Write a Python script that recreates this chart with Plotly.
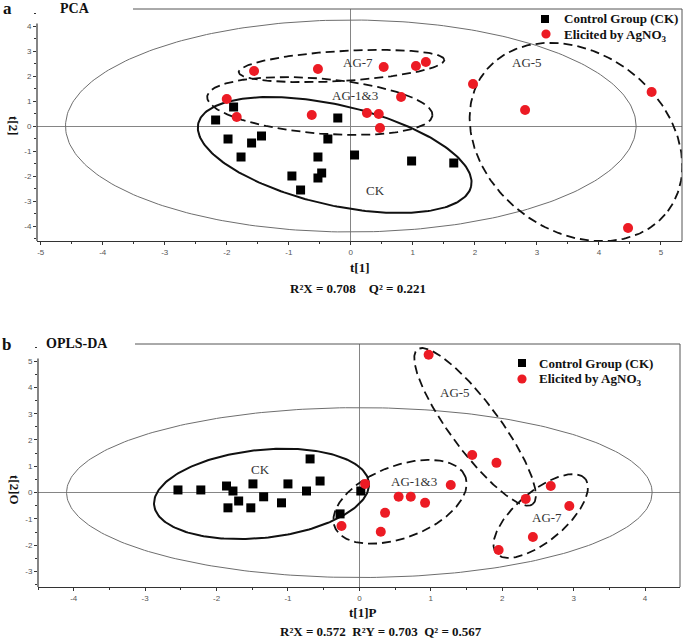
import numpy as np
import plotly.graph_objects as go

# ---------------- data ----------------
# Panel a: PCA scores
ck_pca_t1 = [-2.18, -1.89, -1.98, -1.60, -1.44, -1.77, -0.95, -0.81, -0.53, -0.53, -0.47, -0.37, -0.21, 0.06, 0.98, 1.66]
ck_pca_t2 = [0.24, 0.76, -0.52, -0.68, -0.40, -1.24, -2.00, -2.56, -1.24, -2.08, -1.88, -0.52, 0.32, -1.16, -1.40, -1.48]
ag_pca_t1 = [-1.56, -0.53, -2.00, -1.84, -0.63, 0.53, 1.05, 1.21, 1.97, 0.81, 0.26, 0.45, 0.47, 2.81, 4.85, 4.47]
ag_pca_t2 = [2.20, 2.28, 1.08, 0.36, 0.44, 2.36, 2.40, 2.56, 1.68, 1.16, 0.52, 0.48, -0.08, 0.64, 1.36, -4.08]

# Panel b: OPLS-DA scores
ck_opls_t1p = [-2.54, -2.22, -1.86, -1.77, -1.49, -1.69, -1.84, -1.52, -1.34, -1.00, -1.09, -0.69, -0.55, -0.74, -0.27, 0.02]
ck_opls_t2o = [0.10, 0.10, 0.25, 0.06, 0.33, -0.32, -0.58, -0.58, -0.16, 0.33, -0.39, 1.28, 0.44, 0.06, -0.81, 0.06]
ag_opls_t1p = [0.97, 1.58, 1.92, 0.08, 1.28, 0.55, 0.72, 0.92, 0.36, 0.30, -0.25, 2.33, 2.68, 2.94, 2.43, 1.95]
ag_opls_t2o = [5.24, 1.43, 1.13, 0.33, 0.29, -0.16, -0.16, -0.39, -0.77, -1.49, -1.27, -0.24, 0.25, -0.51, -1.69, -2.18]

# Hotelling T2 ellipse semi-axes (data units)
pca_t2_axes = [4.60, 4.24]
opls_t2_axes = [4.10, 3.23]

# tick labels
pca_xticks = [-5, -4, -3, -2, -1, 0, 1, 2, 3, 4, 5]
pca_yticks = [-4, -3, -2, -1, 0, 1, 2, 3, 4]
opls_xticks = [-4, -3, -2, -1, 0, 1, 2, 3, 4]
opls_yticks = [-3, -2, -1, 0, 1, 2, 3, 4, 5]

legend_labels = ["Control Group (CK)", "Elicited by AgNO<sub>3</sub>"]

# ---------------- layout geometry ----------------
W, H = 685, 640
def px(x):
    return x / W
def py(y):
    return 1 - y / H

A_DOM_X = [37, 682]; A_DOM_Y = [9, 241]
B_DOM_X = [38, 680]; B_DOM_Y = [344, 587]
A_RX = [-5.06, 5.34]; A_RY = [-4.60, 4.68]
B_RX = [-4.50, 4.49]; B_RY = [-3.59, 5.65]

def scale(dom, rng):
    return (dom[1] - dom[0]) / (rng[1] - rng[0])

a_sx, a_sy = scale(A_DOM_X, A_RX), scale(A_DOM_Y, A_RY)
b_sx, b_sy = scale(B_DOM_X, B_RX), scale(B_DOM_Y, B_RY)

def ellipse(cx, cy, a_px, b_px, deg, sx, sy, n=240):
    t = np.linspace(0, 2 * np.pi, n)
    th = np.radians(deg)
    X = a_px * np.cos(t) * np.cos(th) - b_px * np.sin(t) * np.sin(th)
    Y = a_px * np.cos(t) * np.sin(th) + b_px * np.sin(t) * np.cos(th)
    return cx + X / sx, cy + Y / sy

RED = "#ec1b24"
SERIF = "Liberation Serif"
SANS = "Liberation Sans"

fig = go.Figure()

def add_line(xs, ys, xa, ya, color, width, dash="solid"):
    fig.add_trace(go.Scatter(x=xs, y=ys, mode="lines", xaxis=xa, yaxis=ya,
                             line=dict(color=color, width=width, dash=dash),
                             hoverinfo="skip", showlegend=False))

DASH = "9px,5px"

# ---- panel a ellipses ----
t = np.linspace(0, 2 * np.pi, 300)
add_line(pca_t2_axes[0] * np.cos(t), pca_t2_axes[1] * np.sin(t), "x", "y", "#6e6e6e", 1)
ex, ey = ellipse(-0.26, -1.16, 140, 50, -13, a_sx, a_sy); add_line(ex, ey, "x", "y", "#111", 2)
ex, ey = ellipse(-0.15, 2.40, 103, 15, 3.4, a_sx, a_sy); add_line(ex, ey, "x", "y", "#111", 1.8, DASH)
ex, ey = ellipse(-0.50, 0.80, 113, 27.5, -4.8, a_sx, a_sy); add_line(ex, ey, "x", "y", "#111", 1.8, DASH)
ex, ey = ellipse(3.63, -0.64, 115, 89, -37, a_sx, a_sy); add_line(ex, ey, "x", "y", "#111", 1.8, DASH)

# ---- panel b ellipses ----
add_line(opls_t2_axes[0] * np.cos(t), opls_t2_axes[1] * np.sin(t), "x2", "y2", "#6e6e6e", 1)
ex, ey = ellipse(-1.37, -0.05, 108, 44, 6, b_sx, b_sy); add_line(ex, ey, "x2", "y2", "#111", 2)
ex, ey = ellipse(0.57, -0.35, 70, 36, 21, b_sx, b_sy); add_line(ex, ey, "x2", "y2", "#111", 1.8, DASH)
ex, ey = ellipse(1.62, 2.50, 96.5, 24.5, -53.4, b_sx, b_sy); add_line(ex, ey, "x2", "y2", "#111", 1.8, DASH)
ex, ey = ellipse(2.54, -0.89, 58, 25, 40, b_sx, b_sy); add_line(ex, ey, "x2", "y2", "#111", 1.8, DASH)

# ---- points ----
fig.add_trace(go.Scatter(x=ck_pca_t1, y=ck_pca_t2, mode="markers", xaxis="x", yaxis="y",
                         marker=dict(symbol="square", size=9, color="black"),
                         name=legend_labels[0], showlegend=False))
fig.add_trace(go.Scatter(x=ag_pca_t1, y=ag_pca_t2, mode="markers", xaxis="x", yaxis="y",
                         marker=dict(symbol="circle", size=10, color=RED),
                         name=legend_labels[1], showlegend=False))
fig.add_trace(go.Scatter(x=ck_opls_t1p, y=ck_opls_t2o, mode="markers", xaxis="x2", yaxis="y2",
                         marker=dict(symbol="square", size=9, color="black"),
                         name=legend_labels[0], showlegend=False))
fig.add_trace(go.Scatter(x=ag_opls_t1p, y=ag_opls_t2o, mode="markers", xaxis="x2", yaxis="y2",
                         marker=dict(symbol="circle", size=10, color=RED),
                         name=legend_labels[1], showlegend=False))

def tick_txt(v):
    return [str(i) for i in v]

axis_common = dict(showgrid=False, zeroline=True, zerolinecolor="#858585", zerolinewidth=1,
                   ticks="outside", ticklen=3, tickcolor="#333", tickwidth=1,
                   tickfont=dict(family=SANS, size=8, color="#555"),
                   minor=dict(ticks="outside", ticklen=2, tickcolor="#333", dtick=0.5))

fig.update_layout(
    width=W, height=H, margin=dict(l=0, r=0, t=0, b=0),
    paper_bgcolor="white", plot_bgcolor="white", showlegend=False,
    xaxis=dict(domain=[px(A_DOM_X[0]), px(A_DOM_X[1])], range=A_RX, anchor="y",
               tickvals=pca_xticks, ticktext=tick_txt(pca_xticks),
               showline=True, linecolor="#333", linewidth=1.2, **axis_common),
    yaxis=dict(domain=[py(A_DOM_Y[1]), py(A_DOM_Y[0])], range=A_RY, anchor="x",
               tickvals=pca_yticks, ticktext=tick_txt(pca_yticks),
               showline=False, **axis_common),
    xaxis2=dict(domain=[px(B_DOM_X[0]), px(B_DOM_X[1])], range=B_RX, anchor="y2",
                tickvals=opls_xticks, ticktext=tick_txt(opls_xticks),
                showline=True, linecolor="#333", linewidth=1.2, **axis_common),
    yaxis2=dict(domain=[py(B_DOM_Y[1]), py(B_DOM_Y[0])], range=B_RY, anchor="x2",
                tickvals=opls_yticks, ticktext=tick_txt(opls_yticks),
                showline=False, **axis_common),
)

shapes = []
# partial left axis lines, top lines and right borders
shapes.append(dict(type="line", xref="x domain", yref="y", x0=0, x1=0, y0=A_RY[0], y1=4.1,
                   line=dict(color="#333", width=1.2)))
shapes.append(dict(type="line", xref="paper", yref="y domain", x0=px(133), x1=px(682), y0=1, y1=1,
                   line=dict(color="#555", width=1)))
shapes.append(dict(type="line", xref="x domain", yref="y domain", x0=1, x1=1, y0=0, y1=1,
                   line=dict(color="#555", width=1)))
shapes.append(dict(type="line", xref="x2 domain", yref="y2", x0=0, x1=0, y0=B_RY[0], y1=5.1,
                   line=dict(color="#333", width=1.2)))
shapes.append(dict(type="line", xref="paper", yref="y2 domain", x0=px(135), x1=px(680), y0=1, y1=1,
                   line=dict(color="#555", width=1)))
shapes.append(dict(type="line", xref="x2 domain", yref="y2 domain", x0=1, x1=1, y0=0, y1=1,
                   line=dict(color="#555", width=1)))

# manual legends (marker glyphs)
def sq(cx, cy, s=4):
    return dict(type="rect", xref="paper", yref="paper", x0=px(cx - s), x1=px(cx + s),
                y0=py(cy + s), y1=py(cy - s), fillcolor="black", line=dict(width=0))
def circ(cx, cy, r=4.6):
    return dict(type="circle", xref="paper", yref="paper", x0=px(cx - r), x1=px(cx + r),
                y0=py(cy + r), y1=py(cy - r), fillcolor=RED, line=dict(width=0))
shapes += [sq(545, 19), circ(546, 34), sq(522, 363), circ(522, 379)]
fig.update_layout(shapes=shapes)

ann = []
def text(x, y, s, size=13, bold=True, anchor="center", color="#111", angle=0, family=SERIF):
    ann.append(dict(x=px(x), y=py(y), xref="paper", yref="paper", text=(f"<b>{s}</b>" if bold else s),
                    showarrow=False, xanchor=anchor, yanchor="middle", textangle=angle,
                    font=dict(family=family, size=size, color=color)))

# panel titles
text(8, 9, "a", size=17)
text(75, 9, "PCA", size=14)
text(6, 344, "b", size=17)
text(77, 343, "OPLS-DA", size=14)
# axis titles
text(360, 267, "t[1]", size=13)
text(358, 288, "R²X = 0.708    Q² = 0.221", size=13)
text(14, 126, "t[2]", size=13, angle=90)
text(362, 612, "t[1]P", size=13)
text(381, 631, "R²X = 0.572  R²Y = 0.703  Q² = 0.567", size=13)
text(15, 490, "t[2]O", size=13, angle=90)
# legend texts
text(562, 19, legend_labels[0], size=13, anchor="left")
text(562, 35, legend_labels[1], size=13, anchor="left")
text(537, 363, legend_labels[0], size=13, anchor="left")
text(537, 379, legend_labels[1], size=13, anchor="left")
# group labels
g = dict(size=13, bold=False, color="#333")
text(358, 63, "AG-7", **g)
text(355, 95, "AG-1&amp;3", **g)
text(527, 63, "AG-5", **g)
text(375, 190, "CK", **g)
text(260, 469, "CK", **g)
text(414, 481, "AG-1&amp;3", **g)
text(455, 392, "AG-5", **g)
text(547, 517, "AG-7", **g)

fig.update_layout(annotations=ann)

fig.write_html("out.html", config={"displayModeBar": False},
               post_script="document.body.style.margin='0px';document.body.style.overflow='hidden';")
